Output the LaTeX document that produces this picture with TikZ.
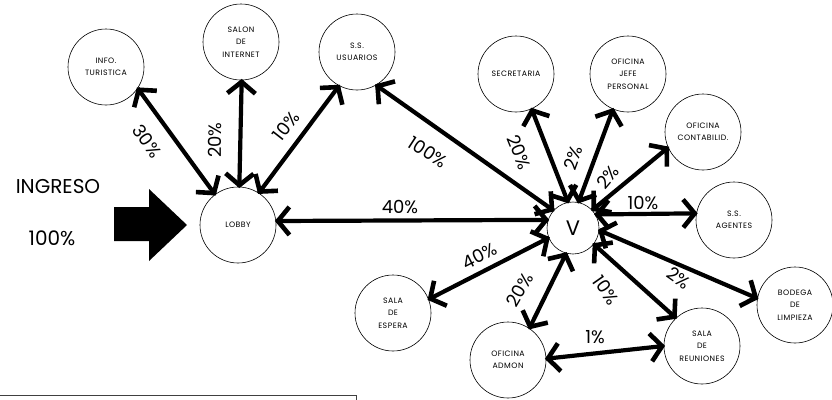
\documentclass[tikz,border=0pt]{standalone}
\usepackage{fontspec}
\setmainfont{Poppins}
\newfontfamily\roomfont[LetterSpace=6]{Poppins}
\usetikzlibrary{arrows.meta,decorations.markings}
\begin{document}
\begin{tikzpicture}[x=1pt,y=-1pt,
  room/.style={circle, draw, line width=0.6pt, minimum size=76pt, inner sep=0pt, align=center,
    font=\roomfont\fontsize{7.8}{12.5}\selectfont},
  hub/.style={circle, draw, line width=0.6pt, minimum size=52pt, inner sep=0pt,
    font=\fontsize{21}{21}\selectfont},
  barb/.style={line width=4.6pt, line cap=butt, line join=miter},
  link/.style={line width=4.2pt, postaction={decorate},
    decoration={markings,
      mark=at position 0.001 with {\draw[barb] (13pt,14pt) -- (1.5pt,0pt) -- (13pt,-14pt);},
      mark=at position 0.999 with {\draw[barb] (-13pt,14pt) -- (-1.5pt,0pt) -- (-13pt,-14pt);}}},
  pct/.style={font=\fontsize{18}{18}\selectfont, inner sep=0pt},
  bigtext/.style={font=\fontsize{20}{20}\selectfont, inner sep=0pt}]
\useasboundingbox (0,0) rectangle (832,399);

% rooms
\node[room] (info)   at (106,67)  {INFO.\\TURISTICA};
\node[room] (salon)  at (241,42)  {SALON\\DE\\INTERNET};
\node[room] (ssusu)  at (357,52)  {S.S.\\USUARIOS};
\node[room] (secr)   at (516,74)  {SECRETARIA};
\node[room] (jefe)   at (628,74)  {OFICINA\\JEFE\\PERSONAL};
\node[room] (contab) at (703,132) {OFICINA\\CONTABILID.};
\node[room] (lobby)  at (238,225) {LOBBY};
\node[hub]  (v)      at (573,228) {V};
\node[room] (ssag)   at (734,220) {S.S.\\AGENTES};
\node[room] (bodega) at (795,305) {BODEGA\\DE\\LIMPIEZA};
\node[room] (reun)   at (702,346) {SALA\\DE\\REUNIONES};
\node[room] (admon)  at (508,360) {OFICINA\\ADMON};
\node[room] (espera) at (393,313) {SALA\\DE\\ESPERA};

% entrance
\fill (114,207) -- (149,207) -- (149,189) -- (187,225) -- (149,261) -- (149,241) -- (114,241) -- cycle;
\node[bigtext] (ingreso) at (58,187) {INGRESO};
\node[bigtext] (cien) at (52,238) {100\%};

% links
\draw[link] (info.-34) -- (lobby.127);
\draw[link] (salon.-89) -- (lobby.88);
\draw[link] (ssusu.242) -- (lobby.57);
\draw[link] (ssusu.-60) -- (v.138);
\draw[link] (lobby.6) -- (v.162);
\draw[link] (secr.-66) -- (v.101);
\draw[link] (jefe.247) -- (v.78);
\draw[link] (contab.204) -- (v.43);
\draw[link] (v.31) -- (ssag.170);
\draw[link] (v.-5) -- (bodega.170);
\draw[link] (v.-38) -- (reun.133);
\draw[link] (v.-105) -- (admon.56);
\draw[link] (v.-158) -- (espera.21);
\draw[link] (admon.2) -- (reun.180);

% labels
\node[pct, rotate=-55] (l1) at (147,141) {30\%};
\node[pct, rotate=90]  (l2) at (215,140) {20\%};
\node[pct, rotate=52]  (l3) at (286,126) {10\%};
\node[pct, rotate=-33] (l4) at (428,152) {100\%};
\node[pct]             (l5) at (400,207) {40\%};
\node[pct, rotate=-68] (l6) at (519,152) {20\%};
\node[pct, rotate=70]  (l7) at (573,158) {2\%};
\node[pct, rotate=50]  (l8) at (608,177) {2\%};
\node[pct]             (l9) at (643,203) {10\%};
\node[pct, rotate=-35] (l10) at (679,278) {2\%};
\node[pct, rotate=-55] (l11) at (606,290) {10\%};
\node[pct, rotate=60]  (l12) at (520,290) {20\%};
\node[pct, rotate=27]  (l13) at (480,256) {40\%};
\node[pct]             (l14) at (595,337) {1\%};

% frame at bottom left
\draw[gray!50!black, line width=0.8pt] (0,395) -- (356,395) -- (356,410);
\end{tikzpicture}
\end{document}
